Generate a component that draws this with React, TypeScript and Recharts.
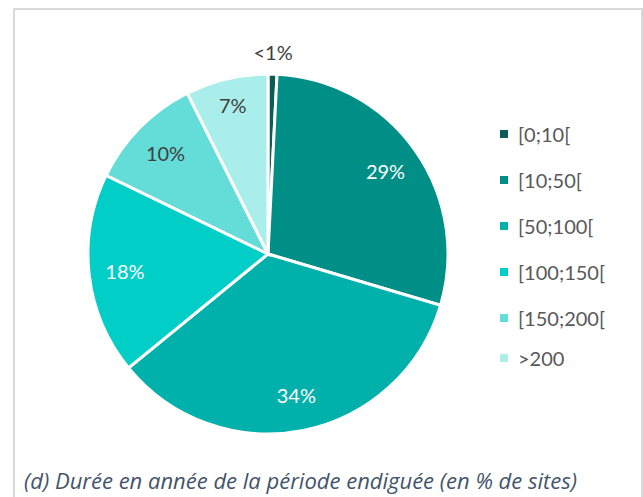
import { PieChart, Pie, Cell } from 'recharts'

const categories = ['[0;10[', '[10;50[', '[50;100[', '[100;150[', '[150;200[', '>200']
const shares = [0.8, 28.8, 34.5, 18.1, 10.4, 7.4]
const labels = ['<1%', '29%', '34%', '18%', '10%', '7%']
const colors = ['#0b5c57', '#008f87', '#00b0aa', '#00cec7', '#64dcd8', '#aaeeeb']
const labelColors = ['#404040', '#ffffff', '#ffffff', '#ffffff', '#404040', '#404040']

const data = categories.map((name, i) => ({ name, value: shares[i] }))

const RAD = Math.PI / 180
const font = 'Lato, "Open Sans", sans-serif'

function renderLabel(props: any) {
  const { cx, cy, midAngle, outerRadius, index } = props
  const r = index === 0 ? outerRadius + 22 : index === 5 ? outerRadius * 0.85 : outerRadius * 0.8
  const x = cx + r * Math.cos(-midAngle * RAD)
  const y = cy + r * Math.sin(-midAngle * RAD)
  return (
    <text
      x={x}
      y={y}
      fill={labelColors[index]}
      textAnchor="middle"
      dominantBaseline="central"
      fontSize={20}
      fontFamily={font}
    >
      {labels[index]}
    </text>
  )
}

export default function App() {
  return (
    <div style={{ position: 'absolute', left: 0, top: 0, width: 643, height: 497, background: '#fff' }}>
      <div
        style={{
          position: 'absolute',
          left: 13,
          top: 8,
          width: 626,
          height: 497,
          borderLeft: '2px solid #d9d9d9',
          borderTop: '2px solid #d9d9d9',
          borderRight: '2px solid #d9d9d9',
        }}
      />
      <div style={{ position: 'absolute', left: 0, top: 0 }}>
        <PieChart width={643} height={497} margin={{ top: 0, right: 0, bottom: 0, left: 0 }}>
          <Pie
            data={data}
            dataKey="value"
            nameKey="name"
            cx={268}
            cy={254}
            outerRadius={180}
            startAngle={90}
            endAngle={-270}
            stroke="#ffffff"
            strokeWidth={3}
            label={renderLabel}
            labelLine={false}
            isAnimationActive={false}
          >
            {data.map((d, i) => (
              <Cell key={d.name} fill={colors[i]} />
            ))}
          </Pie>
        </PieChart>
      </div>
      <div style={{ position: 'absolute', left: 500, top: 111, fontFamily: font }}>
        {categories.map((c, i) => (
          <div key={c} style={{ display: 'flex', alignItems: 'center', height: 46, marginTop: i === 5 ? -6 : 0 }}>
            <span style={{ width: 8, height: 8, background: colors[i], display: 'inline-block', marginRight: 10 }} />
            <span style={{ fontSize: 20, color: '#595959' }}>{c}</span>
          </div>
        ))}
      </div>
      <div
        style={{
          position: 'absolute',
          left: 24,
          top: 465,
          fontFamily: '"Open Sans", sans-serif',
          fontStyle: 'italic',
          fontSize: 22,
          color: '#44546a',
          whiteSpace: 'nowrap',
        }}
      >
        (d) Durée en année de la période endiguée (en % de sites)
      </div>
    </div>
  )
}
